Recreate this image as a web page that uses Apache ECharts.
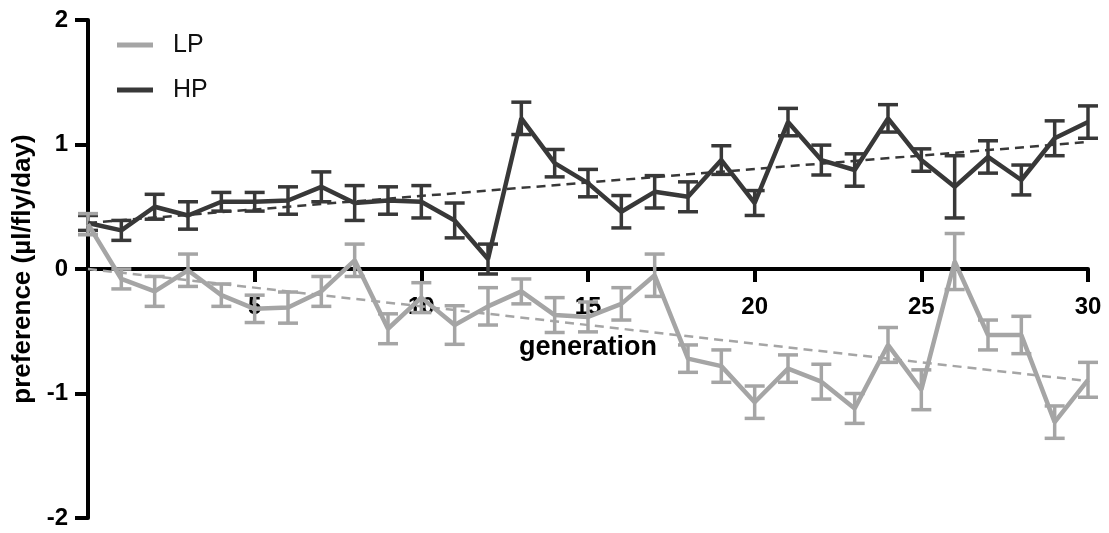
<!DOCTYPE html>
<html>
<head>
<meta charset="utf-8">
<script src="https://cdn.jsdelivr.net/npm/echarts@6/dist/echarts.min.js"></script>
<style>html,body{margin:0;padding:0;background:#fff}#c{width:1109px;height:533px}</style>
</head>
<body>
<div id="c"></div>
<script>
const generations = [0,1,2,3,4,5,6,7,8,9,10,11,12,13,14,15,16,17,18,19,20,21,22,23,24,25,26,27,28,29,30];
const hpMean = [0.37,0.31,0.50,0.43,0.54,0.54,0.55,0.66,0.53,0.55,0.54,0.39,0.08,1.21,0.85,0.69,0.46,0.62,0.58,0.875,0.53,1.18,0.875,0.795,1.21,0.875,0.66,0.90,0.715,1.05,1.18];
const hpErr  = [0.06,0.08,0.10,0.11,0.075,0.075,0.11,0.12,0.14,0.11,0.13,0.14,0.12,0.13,0.11,0.11,0.13,0.13,0.12,0.115,0.10,0.11,0.12,0.13,0.11,0.09,0.25,0.13,0.12,0.14,0.13];
const lpMean = [0.36,-0.08,-0.18,-0.01,-0.21,-0.32,-0.31,-0.18,0.07,-0.48,-0.23,-0.45,-0.30,-0.18,-0.37,-0.385,-0.28,-0.05,-0.72,-0.78,-1.07,-0.80,-0.905,-1.12,-0.61,-0.97,0.06,-0.53,-0.53,-1.23,-0.89];
const lpErr  = [0.085,0.08,0.12,0.13,0.09,0.11,0.125,0.12,0.13,0.12,0.12,0.155,0.15,0.10,0.14,0.12,0.13,0.17,0.11,0.13,0.13,0.11,0.14,0.12,0.14,0.16,0.225,0.12,0.15,0.13,0.14];
const trendGen = [0, 30];
const hpTrend = [0.37, 1.02];
const lpTrend = [0.0, -0.9];
const yTicks = [-2,-1,0,1,2];

const HP = '#383838', LP = '#a5a5a5';
const FONT = '"Liberation Sans", Arial, sans-serif';

function pairs(xs, ys){ return xs.map((x,i)=>[x, ys[i]]); }
function errData(means, errs){ return generations.map((g,i)=>[g, means[i]-errs[i], means[i]+errs[i]]); }
function errSeries(name, means, errs, color){
  return {
    name: name, type: 'custom', data: errData(means, errs),
    renderItem: function(params, api){
      const x = api.value(0);
      const lo = api.coord([x, api.value(1)]);
      const hi = api.coord([x, api.value(2)]);
      const w = 10;
      const st = {stroke: color, lineWidth: 3.5, fill: null};
      return {type:'group', children:[
        {type:'line', shape:{x1:lo[0],y1:lo[1],x2:hi[0],y2:hi[1]}, style:st},
        {type:'line', shape:{x1:lo[0]-w,y1:lo[1],x2:lo[0]+w,y2:lo[1]}, style:st},
        {type:'line', shape:{x1:hi[0]-w,y1:hi[1],x2:hi[0]+w,y2:hi[1]}, style:st}
      ]};
    },
    silent: true, z: 3
  };
}

const GRID_TOP = 20, GRID_BOTTOM = 15, H = 533;
const plotH = H - GRID_TOP - GRID_BOTTOM;
// move x axis up to the y=0 position
const zeroOffset = -plotH * (0 - yTicks[0]) / (yTicks[yTicks.length-1] - yTicks[0]);

const chart = echarts.init(document.getElementById('c'));
chart.setOption({
  animation: false,
  backgroundColor: '#fff',
  grid: {left: 88, right: 21, top: GRID_TOP, bottom: GRID_BOTTOM, containLabel: false, outerBoundsMode: 'none'},
  legend: {
    data: ['LP','HP'], orient: 'vertical', left: 112, top: 25,
    icon: 'rect', itemWidth: 36, itemHeight: 5, itemGap: 15,
    textStyle: {fontFamily: FONT, fontSize: 25, color: '#111', lineHeight: 30, padding: [0,0,0,15]}
  },
  xAxis: {
    type: 'value', min: 0, max: 30, interval: 5,
    position: 'bottom', offset: zeroOffset,
    axisLine: {onZero: false, lineStyle: {color: '#000', width: 4}},
    axisTick: {show: true, length: 13, lineStyle: {color: '#000', width: 4}},
    splitLine: {show: false},
    axisLabel: {fontFamily: FONT, fontSize: 24, fontWeight: 'bold', color: '#000', margin: 26,
      formatter: v => v === 0 ? '' : String(v)},
    name: 'generation', nameLocation: 'middle', nameGap: 65,
    nameTextStyle: {fontFamily: FONT, fontSize: 27, fontWeight: 'bold', color: '#000'}
  },
  yAxis: {
    type: 'value', min: yTicks[0], max: yTicks[yTicks.length-1], interval: 1,
    axisLine: {lineStyle: {color: '#000', width: 4}},
    axisTick: {show: true, length: 13, lineStyle: {color: '#000', width: 4}},
    splitLine: {show: false},
    axisLabel: {fontFamily: FONT, fontSize: 24, fontWeight: 'bold', color: '#000', margin: 20},
    name: 'preference (µl/fly/day)', nameLocation: 'middle', nameGap: 44,
    nameTextStyle: {fontFamily: FONT, fontSize: 26, fontWeight: 'bold', color: '#000'}
  },
  series: [
    {name: 'HP trend', type: 'line', data: pairs(trendGen, hpTrend), symbol: 'none', silent: true,
      lineStyle: {color: HP, width: 2.5, type: [9,6]}, z: 1},
    {name: 'LP trend', type: 'line', data: pairs(trendGen, lpTrend), symbol: 'none', silent: true,
      lineStyle: {color: LP, width: 2.5, type: [9,6]}, z: 1},
    errSeries('HP err', hpMean, hpErr, HP),
    {name: 'HP', type: 'line', data: pairs(generations, hpMean), symbol: 'none', color: HP,
      lineStyle: {color: HP, width: 4.5}, z: 4},
    errSeries('LP err', lpMean, lpErr, LP),
    {name: 'LP', type: 'line', data: pairs(generations, lpMean), symbol: 'none', color: LP,
      lineStyle: {color: LP, width: 4.5}, z: 4}
  ]
});
</script>
</body>
</html>
